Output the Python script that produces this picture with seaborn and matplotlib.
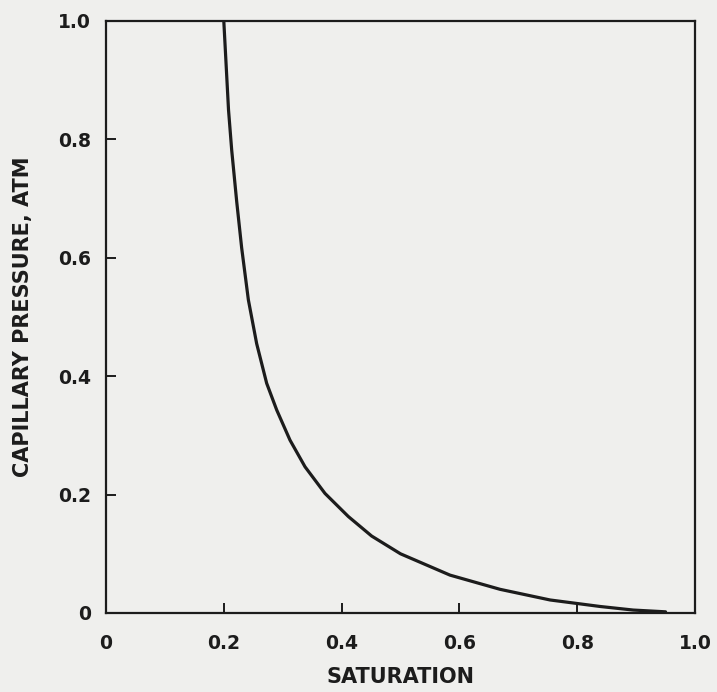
import matplotlib
matplotlib.use("Agg")
import matplotlib.pyplot as plt
import seaborn as sns
import pandas as pd

# Data
saturation = [0.200, 0.204, 0.208, 0.2134, 0.2219, 0.2303, 0.2417, 0.2558,
              0.2728, 0.2898, 0.3124, 0.3379, 0.3718, 0.4114, 0.451, 0.500,
              0.584, 0.669, 0.754, 0.839, 0.895, 0.950]
pressure = [1.000, 0.925, 0.850, 0.782, 0.695, 0.617, 0.529, 0.455,
            0.388, 0.343, 0.292, 0.247, 0.202, 0.163, 0.130, 0.100,
            0.064, 0.040, 0.022, 0.011, 0.005, 0.002]

xticks = [0, 0.2, 0.4, 0.6, 0.8, 1.0]
xticklabels = ["0", "0.2", "0.4", "0.6", "0.8", "1.0"]
yticks = [0, 0.2, 0.4, 0.6, 0.8, 1.0]
yticklabels = ["0", "0.2", "0.4", "0.6", "0.8", "1.0"]

xlabel = "SATURATION"
ylabel = "CAPILLARY PRESSURE, ATM"

sns.set_theme(style="ticks")
plt.rcParams["font.family"] = ["DejaVu Sans"]

bg = "#efefed"
ink = "#1c1c1c"

fig = plt.figure(figsize=(7.17, 6.92), dpi=100, facecolor=bg)
ax = fig.add_axes([106 / 717, 1 - 613 / 692, (695 - 106) / 717, (613 - 21) / 692])
ax.set_facecolor(bg)

df = pd.DataFrame({"S": saturation, "P": pressure})
sns.lineplot(data=df, x="S", y="P", sort=False, ax=ax, color=ink, linewidth=2.3,
             solid_joinstyle="round", solid_capstyle="round")

ax.set_xlim(0, 1.0)
ax.set_ylim(0, 1.0)
ax.set_xticks(xticks)
ax.set_xticklabels(xticklabels)
ax.set_yticks(yticks)
ax.set_yticklabels(yticklabels)

for s in ax.spines.values():
    s.set_visible(True)
    s.set_color(ink)
    s.set_linewidth(1.6)

ax.tick_params(axis="both", direction="in", length=7, width=1.4, colors=ink,
               labelsize=13.5, labelcolor=ink)
ax.tick_params(axis="x", pad=15)
ax.tick_params(axis="y", pad=11)
for lab in ax.get_xticklabels() + ax.get_yticklabels():
    lab.set_fontweight("bold")

ax.set_xlabel(xlabel, fontsize=15, fontweight="bold", color=ink, labelpad=10)
ax.set_ylabel(ylabel, fontsize=15, fontweight="bold", color=ink, labelpad=18)

fig.savefig("out.png", dpi=100, facecolor=bg)
